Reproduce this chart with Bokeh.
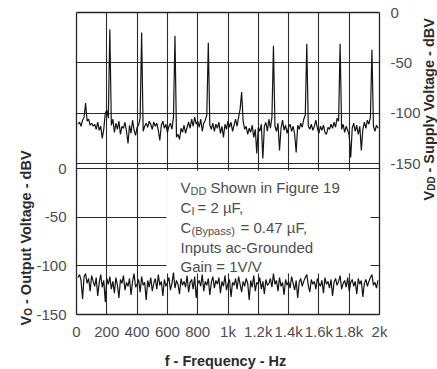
import math
from bokeh.plotting import figure
from bokeh.models import Range1d, LinearAxis, FixedTicker, Grid, Label
from bokeh.embed import file_html
from bokeh.resources import INLINE

# ---------------- data ----------------
freq = list(range(10, 2000, 10))  # Hz sample grid

# V_DD supply voltage spectrum (dBV), right scale
vdd_db = [
    -111, -109, -113, -107, -104, -90, -108, -106, -112, -110,
    -113, -111, -116, -109, -117, -113, -125, -116, -100, -97,
    -105, -17, -112, -106, -119, -110, -116, -108, -121, -113,
    -115, -109, -118, -130, -112, -120, -107, -117, -122, -114,
    -112, -105, -20, -118, -113, -110, -114, -108, -111, -116,
    -109, -113, -110, -117, -127, -112, -108, -115, -111, -119,
    -113, -110, -116, -104, -23, -124, -121, -126, -115, -119,
    -112, -120, -114, -109, -115, -106, -113, -104, -111, -108,
    -114, -106, -118, -110, -107, -102, -30, -112, -116, -110,
    -118, -111, -115, -109, -120, -113, -124, -111, -116, -108,
    -114, -109, -118, -112, -106, -113, -104, -96, -79, -108,
    -116, -113, -121, -115, -119, -112, -124, -116, -140, -114,
    -118, -111, -145, -113, -109, -118, -106, -115, -104, -33,
    -113, -118, -110, -137, -115, -107, -117, -112, -120, -114,
    -111, -118, -113, -121, -139, -112, -116, -110, -114, -106,
    -102, -31, -113, -116, -111, -117, -113, -107, -115, -120,
    -113, -117, -112, -119, -121, -114, -116, -111, -115, -109,
    -114, -105, -108, -31, -116, -111, -119, -113, -117, -122,
    -144, -115, -110, -118, -112, -121, -113, -137, -116, -109,
    -115, -107, -111, -104, -37, -113, -118, -112, -115,
]

# V_O output voltage spectrum (dBV), left scale
vo_db = [
    -112, -109, -115, -134, -111, -108, -118, -113, -126, -110,
    -116, -121, -112, -131, -117, -109, -122, -115, -137, -113,
    -119, -111, -124, -116, -128, -112, -120, -133, -114, -118,
    -110, -125, -117, -121, -113, -130, -116, -108, -122, -119,
    -114, -127, -111, -120, -117, -135, -115, -122, -112, -126,
    -118, -113, -124, -109, -120, -116, -131, -114, -121, -117,
    -112, -125, -118, -107, -123, -115, -119, -129, -113, -120,
    -116, -122, -110, -127, -117, -114, -124, -111, -133, -118,
    -115, -121, -109, -126, -116, -120, -113, -130, -117, -111,
    -123, -115, -119, -112, -128, -116, -121, -110, -125, -118,
    -114, -132, -117, -120, -113, -124, -111, -119, -127, -116,
    -121, -113, -118, -135, -115, -122, -110, -126, -117, -119,
    -112, -124, -116, -129, -114, -120, -118, -113, -122, -108,
    -119, -115, -126, -112, -121, -117, -130, -114, -120, -116,
    -123, -111, -118, -125, -115, -133, -117, -113, -121, -116,
    -112, -109, -120, -127, -114, -119, -116, -124, -113, -118,
    -121, -115, -128, -112, -119, -116, -123, -114, -131, -117,
    -113, -120, -116, -110, -124, -118, -115, -122, -112, -126,
    -117, -114, -121, -116, -129, -113, -119, -115, -132, -118,
    -114, -121, -116, -112, -109, -120, -117, -123, -115,
]

x_ticks = [0, 200, 400, 600, 800, 1000, 1200, 1400, 1600, 1800, 2000]
x_tick_labels = ["0", "200", "400", "600", "800", "1k", "1.2k", "1.4k", "1.6k", "1.8k", "2k"]
y_ticks = [0, -50, -100, -150]
y_tick_labels = ["0", "-50", "-100", "-150"]
x_grid = [200, 400, 600, 800, 1000, 1200, 1400, 1600, 1800]

# ---------------- layout helpers (page pixel -> data) ----------------
W, H = 437, 369               # canvas (page offset 0)
FL, FR, FT, FB = 76, 379, 12, 314   # plot box in page pixels
L_BOT, L_TOP = -150.0, -150.0 + 150.0 * (FB - FT) / 146.0   # lower panel scale (left)
R_BOT, R_TOP = -300.0, 0.0                                    # upper panel scale (right)


def hz(px):
    return (px - FL) * 2000.0 / (FR - FL)


def dbl(py):
    return L_BOT + (FB - py) * (L_TOP - L_BOT) / (FB - FT)


def dbr(py):
    return R_BOT + (FB - py) * (R_TOP - R_BOT) / (FB - FT)


FONT = "Liberation Sans"
TXT = "#4d4d4d"
AX = "#2b2b2b"
LINE = "#262626"

# the frame covers the whole canvas; axes sit at fixed locations on the plot box
p = figure(width=W, height=H, title=None,
           x_range=Range1d(hz(0), hz(W)), y_range=Range1d(dbl(H), dbl(0)),
           x_axis_location=None, y_axis_location=None,
           output_backend="svg", toolbar_location=None, min_border=0)
p.extra_y_ranges = {"vdd": Range1d(dbr(H), dbr(0))}
p.background_fill_color = "white"
p.border_fill_color = "white"
p.outline_line_color = None
p.grid.visible = False


def style_axis(ax, standoff):
    ax.major_tick_in = 0
    ax.major_tick_out = 0
    ax.minor_tick_in = 0
    ax.minor_tick_out = 0
    ax.axis_line_color = LINE
    ax.axis_line_width = 1.3
    ax.major_label_text_font = FONT
    ax.major_label_text_font_size = "15px"
    ax.major_label_text_color = TXT
    ax.major_label_standoff = standoff


ax_left = LinearAxis(fixed_location=0, bounds=(L_BOT, L_TOP),
                     ticker=FixedTicker(ticks=y_ticks),
                     major_label_overrides=dict(zip(y_ticks, y_tick_labels)))
style_axis(ax_left, 10)
p.add_layout(ax_left, "left")

ax_bottom = LinearAxis(fixed_location=L_BOT, bounds=(0, 2000),
                       ticker=FixedTicker(ticks=x_ticks),
                       major_label_overrides=dict(zip(x_ticks, x_tick_labels)))
style_axis(ax_bottom, 8)
p.add_layout(ax_bottom, "below")

ax_right = LinearAxis(y_range_name="vdd", fixed_location=2000, bounds=(R_BOT, R_TOP),
                      ticker=FixedTicker(ticks=y_ticks),
                      major_label_overrides=dict(zip(y_ticks, y_tick_labels)))
style_axis(ax_right, 11)
p.add_layout(ax_right, "right")

ax_top = LinearAxis(y_range_name="vdd", fixed_location=R_TOP, bounds=(0, 2000),
                    ticker=FixedTicker(ticks=[]))
style_axis(ax_top, 0)
ax_top.major_label_text_font_size = "0px"
p.add_layout(ax_top, "above")

gx = Grid(dimension=0, ticker=FixedTicker(ticks=x_grid), cross_bounds=(L_BOT, L_TOP))
gl = Grid(dimension=1, ticker=FixedTicker(ticks=[0, -50, -100]), cross_bounds=(0, 2000))
gr = Grid(dimension=1, y_range_name="vdd", ticker=FixedTicker(ticks=[-50, -100, -150]),
          cross_bounds=(0, 2000))
for g in [gx, gl, gr]:
    g.grid_line_color = "#2a2a2a"
    g.grid_line_width = 1.1
    g.grid_line_alpha = 1.0
    p.add_layout(g)

# white legend box in the lower panel
p.quad(left=hz(166), right=hz(370), top=dbl(170), bottom=dbl(273),
       fill_color="white", line_color=None)

# traces
p.line(freq, vdd_db, y_range_name="vdd", line_color="#141414", line_width=1.2)
p.line(freq, vo_db, line_color="#141414", line_width=1.2)


def lab(x, y, text, size="15px", style="normal", angle=0.0, align="left",
        baseline="alphabetic", rng="default", color=TXT):
    p.add_layout(Label(x=x, y=y, text=text, text_font=FONT, text_font_size=size,
                       text_font_style=style, text_color=color, angle=angle,
                       text_align=align, text_baseline=baseline, y_range_name=rng))


# box text
lab(hz(180), dbl(187), "V")
lab(hz(190), dbl(190), "DD", size="11px")
lab(hz(210), dbl(187), "Shown in Figure 19")
lab(hz(180), dbl(207), "C")
lab(hz(191), dbl(210), "I", size="11px")
lab(hz(197), dbl(207), "= 2 \u00b5F,")
lab(hz(180), dbl(227), "C")
lab(hz(191), dbl(230), "(Bypass)", size="11px")
lab(hz(240), dbl(227), "= 0.47 \u00b5F,")
lab(hz(180), dbl(246.5), "Inputs ac-Grounded")
lab(hz(180), dbl(266), "Gain = 1V/V")

# axis titles
up = math.pi / 2
lab(hz(25), dbl(325), "V", size="14.5px", style="bold", angle=up, color=AX)
lab(hz(28), dbl(315.3), "O", size="10px", style="bold", angle=up, color=AX)
lab(hz(25), dbl(303.5), "- Output Voltage - dBV", size="14.5px", style="bold", angle=up, color=AX)

lab(hz(428), dbr(200), "V", size="14.5px", style="bold", angle=up, color=AX, rng="vdd")
lab(hz(430.5), dbr(190.3), "DD", size="10px", style="bold", angle=up, color=AX, rng="vdd")
lab(hz(428), dbr(172), "- Supply Voltage - dBV", size="14.5px", style="bold", angle=up, color=AX, rng="vdd")

lab(hz(225), dbl(360), "f - Frequency - Hz", size="14.5px", style="bold", align="center", color=AX)

with open("out.html", "w") as f:
    f.write(file_html(p, INLINE))
